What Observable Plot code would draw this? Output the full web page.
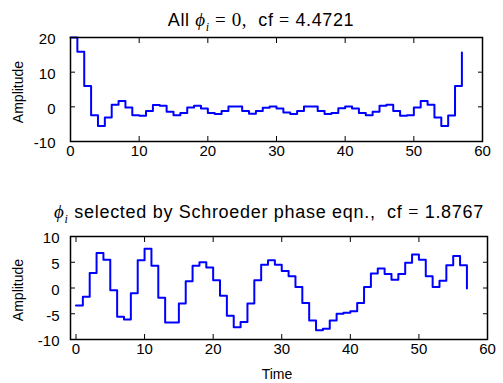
<!DOCTYPE html>
<html>
<head>
<meta charset="utf-8">
<script src="https://cdn.jsdelivr.net/npm/d3@7"></script>
<script src="https://cdn.jsdelivr.net/npm/@observablehq/plot@0.6"></script>
<style>
  html, body { margin: 0; padding: 0; background: white; }
  #wrap { position: relative; width: 503px; height: 383px; overflow: hidden; font-family: "Liberation Sans", Arial, sans-serif; }
  .plot { position: absolute; left: 0; }
  .txt { position: absolute; white-space: pre; color: black; line-height: 1; }
  .m { font-family: "Liberation Serif", "DejaVu Serif", serif; }
  .ylab { transform: translate(-50%, -50%) rotate(-90deg); font-size: 14px; }
</style>
</head>
<body>
<div id="wrap"></div>
<script>
// Sample index (time)
const time = d3.range(0, 58);
// Top panel: all phases zero
const zeroPhase = [
  20.0, 15.9, 6.0, -2.4, -5.5, -3.1, 0.6, 1.7, -0.2, -2.4,
  -2.6, -1.2, 0.5, 0.3, -1.4, -2.4, -1.8, -0.2, 0.3, -0.5,
  -1.8, -2.1, -1.2, 0.1, 0.1, -1.2, -2.0, -1.2, -0.3, 0.1,
  -0.5, -1.6, -2.1, -1.2, 0.1, 0.1, -1.2, -2.1, -1.8, -0.4,
  0.1, -0.5, -1.8, -2.4, -1.4, 0.3, 0.6, -1.2, -2.6, -2.4,
  -0.2, 1.7, 0.6, -3.1, -5.5, -2.5, 6.0, 15.7
];
// Bottom panel: Schroeder phases
const schroeder = [
  -3.4, -1.7, 2.9, 6.8, 5.5, -0.45, -5.6, -6.1, -1.0, 5.4,
  7.6, 4.3, -1.9, -6.7, -6.7, -3.0, 1.3, 4.3, 5.0, 4.0,
  1.5, -1.5, -5.4, -7.6, -6.6, -3.0, 1.5, 4.5, 5.4, 4.5,
  3.3, 2.3, 0.2, -2.9, -6.3, -8.2, -7.9, -6.3, -5.0, -4.8,
  -4.5, -2.9, 0.2, 2.8, 3.8, 2.7, 1.6, 2.7, 4.9, 6.5,
  5.5, 2.3, 0.2, 1.4, 4.4, 6.2, 4.4, -0.1
];
const xTicks = [0, 10, 20, 30, 40, 50, 60];
const yTicksTop = [-10, 0, 10, 20];
const yTicksBottom = [-10, -5, 0, 5, 10];

const wrap = document.getElementById("wrap");
const style = {fontSize: "15px", fontFamily: "Liberation Sans, Arial, sans-serif", color: "black", background: "white", overflow: "visible"};
const fmt = d => String(d);

function panel(values, opts) {
  const data = time.map((t, i) => ({t, v: values[i]}));
  const inX = xTicks.filter(d => d > opts.xDomain[0] && d < opts.xDomain[1]);
  const inY = opts.yTicks.filter(d => d > opts.yDomain[0] && d < opts.yDomain[1]);
  return Plot.plot({
    width: 503,
    height: opts.height,
    marginLeft: 70,
    marginRight: opts.marginRight,
    marginTop: opts.marginTop,
    marginBottom: opts.marginBottom,
    style,
    x: {domain: opts.xDomain, ticks: xTicks},
    y: {domain: opts.yDomain, ticks: opts.yTicks},
    marks: [
      Plot.axisX({anchor: "bottom", ticks: xTicks, tickSize: 0, tickPadding: 4, tickFormat: fmt, label: null}),
      Plot.axisX({anchor: "bottom", ticks: inX, tickSize: -5, tickFormat: () => "", label: null}),
      Plot.axisX({anchor: "top", ticks: inX, tickSize: -5, tickFormat: () => "", label: null}),
      Plot.axisY({anchor: "left", ticks: opts.yTicks, tickSize: 0, tickPadding: opts.yPad, tickFormat: fmt, dy: 2, label: null}),
      Plot.axisY({anchor: "left", ticks: inY, tickSize: -5, tickFormat: () => "", label: null}),
      Plot.axisY({anchor: "right", ticks: inY, tickSize: -5, tickFormat: () => "", label: null}),
      Plot.line(data, {x: "t", y: "v", curve: "step-after", stroke: "#0000ff", strokeWidth: 2}),
      Plot.frame({stroke: "black", strokeWidth: 1.5})
    ]
  });
}

const p1 = panel(zeroPhase, {height: 165, marginRight: 21, marginTop: 37, marginBottom: 24, xDomain: [0, 60], yDomain: [-10, 20], yTicks: yTicksTop, yPad: 15});
p1.classList.add("plot"); p1.style.top = "0px";
wrap.appendChild(p1);

const p2 = panel(schroeder, {height: 183, marginRight: 16, marginTop: 36, marginBottom: 44, xDomain: [-0.8, 60], yDomain: [-10, 10], yTicks: yTicksBottom, yPad: 11});
p2.classList.add("plot"); p2.style.top = "200px";
wrap.appendChild(p2);

function addText(html, cls, css) {
  const d = document.createElement("div");
  d.className = "txt " + cls;
  d.innerHTML = html;
  Object.assign(d.style, css);
  wrap.appendChild(d);
  return d;
}
addText('All <span class="m" style="font-size:19px"><i>ϕ<sub style="font-size:12px">i</sub></i> = 0,</span>  cf <span class="m">=</span> 4.4721', "", {left: "261px", top: "10px", transform: "translateX(-50%)", fontSize: "18px", letterSpacing: "0.6px"});
addText('<span class="m" style="font-size:19px"><i>ϕ<sub style="font-size:12px">i</sub></i></span> selected by Schroeder phase eqn.,  cf <span class="m">=</span> 1.8767', "", {left: "269px", top: "202px", transform: "translateX(-50%)", fontSize: "18px", letterSpacing: "0.7px"});
addText("Amplitude", "ylab", {left: "18px", top: "92px"});
addText("Amplitude", "ylab", {left: "18px", top: "290px"});
addText("Time", "", {left: "277px", top: "367px", transform: "translateX(-50%)", fontSize: "14px"});
</script>
</body>
</html>
